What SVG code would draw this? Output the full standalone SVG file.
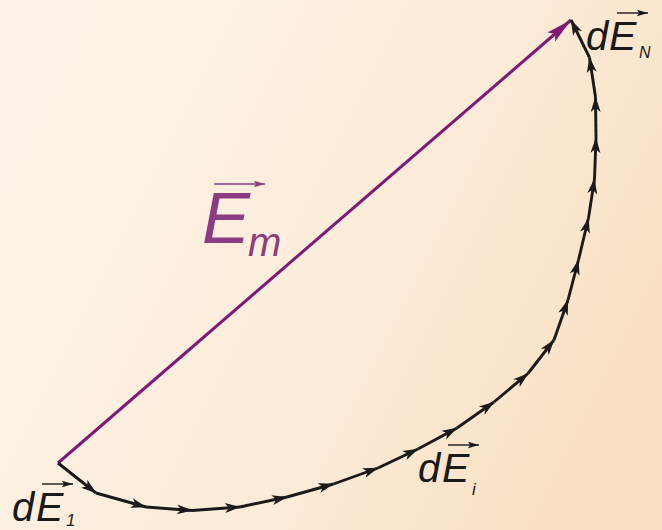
<svg xmlns="http://www.w3.org/2000/svg" width="662" height="530" viewBox="0 0 662 530">
  <defs>
    <linearGradient id="bg" x1="0" y1="0.3" x2="1" y2="0.7">
      <stop offset="0" stop-color="#fdf4e9"/>
      <stop offset="0.6" stop-color="#fcebd7"/>
      <stop offset="1" stop-color="#f9dfc1"/>
    </linearGradient>
    <marker id="ah" markerUnits="userSpaceOnUse" markerWidth="18" markerHeight="12" refX="15" refY="6" orient="auto" overflow="visible">
      <path d="M0,1 L15.5,6 L0,11 L4,6 z" fill="#1a1a1a"/>
    </marker>
    <marker id="ahp" markerUnits="userSpaceOnUse" markerWidth="30" markerHeight="16" refX="26" refY="8" orient="auto" overflow="visible">
      <path d="M0,2 L26,8 L0,14 L5,8 z" fill="#7d1a78"/>
    </marker>
    <marker id="ahsk" markerUnits="userSpaceOnUse" markerWidth="14" markerHeight="8" refX="11" refY="4" orient="auto" overflow="visible">
      <path d="M0,0.8 L11,4 L0,7.2 L2,4 z" fill="#1a1a1a"/>
    </marker>
    <marker id="ahsp" markerUnits="userSpaceOnUse" markerWidth="14" markerHeight="8" refX="11" refY="4" orient="auto" overflow="visible">
      <path d="M0,0.8 L11,4 L0,7.2 L2,4 z" fill="#8c3c80"/>
    </marker>
  </defs>
  <style>
    .seg { stroke: #1a1a1a; stroke-width: 2.9; fill: none; marker-end: url(#ah); }
    .lbl { font-family: "Liberation Sans", Arial, sans-serif; font-style: italic; fill: #1a1a1a; }
    .vec { stroke: #1a1a1a; stroke-width: 1.4; marker-end: url(#ahsk); }
    .vecp { stroke: #8c3c80; stroke-width: 1.7; marker-end: url(#ahsp); }
  </style>
  <rect x="0" y="0" width="662" height="530" fill="url(#bg)"/>

  <g id="connectors">
    <line id="Em-vector" x1="58" y1="463" x2="571" y2="20" stroke="#7d1a78" stroke-width="3" marker-end="url(#ahp)"/>
    <g id="chain">
      <line class="seg" x1="58" y1="463" x2="96" y2="493"/>
      <line class="seg" x1="96" y1="493" x2="146" y2="507"/>
      <line class="seg" x1="146" y1="507" x2="192" y2="510.5"/>
      <line class="seg" x1="192" y1="510.5" x2="240" y2="507"/>
      <line class="seg" x1="240" y1="507" x2="287" y2="497"/>
      <line class="seg" x1="287" y1="497" x2="333.5" y2="484"/>
      <line class="seg" x1="333.5" y1="484" x2="378" y2="468"/>
      <line class="seg" x1="378" y1="468" x2="418" y2="449"/>
      <line class="seg" x1="418" y1="449" x2="457" y2="428"/>
      <line class="seg" x1="457" y1="428" x2="494" y2="402"/>
      <line class="seg" x1="494" y1="402" x2="528" y2="373.5"/>
      <line class="seg" x1="528" y1="373.5" x2="554" y2="340"/>
      <line class="seg" x1="554" y1="340" x2="568" y2="300"/>
      <line class="seg" x1="568" y1="300" x2="578.5" y2="260"/>
      <line class="seg" x1="578.5" y1="260" x2="588.5" y2="218"/>
      <line class="seg" x1="588.5" y1="218" x2="594.5" y2="179"/>
      <line class="seg" x1="594.5" y1="179" x2="596" y2="138"/>
      <line class="seg" x1="596" y1="138" x2="595.5" y2="97"/>
      <line class="seg" x1="595.5" y1="97" x2="589.5" y2="57.5"/>
      <line class="seg" x1="589.5" y1="57.5" x2="571" y2="20"/>
    </g>
  </g>

  <g id="label-Em">
    <text class="lbl" x="202" y="243" font-size="72" style="fill:#8c3c80">E</text>
    <text class="lbl" x="248" y="256" font-size="40" style="fill:#8c3c80">m</text>
    <line class="vecp" x1="214" y1="184" x2="265" y2="184"/>
  </g>

  <g id="label-dE1">
    <text class="lbl" x="12" y="521" font-size="40">d</text>
    <text class="lbl" x="36" y="521" font-size="41">E</text>
    <text class="lbl" x="66" y="526" font-size="17">1</text>
    <line class="vec" x1="42" y1="484" x2="73" y2="484"/>
  </g>

  <g id="label-dEi">
    <text class="lbl" x="418" y="482" font-size="40">d</text>
    <text class="lbl" x="442" y="482" font-size="41">E</text>
    <text class="lbl" x="472" y="495" font-size="17">i</text>
    <line class="vec" x1="448" y1="445" x2="479" y2="445"/>
  </g>

  <g id="label-dEN">
    <text class="lbl" x="586" y="50" font-size="40">d</text>
    <text class="lbl" x="609" y="50" font-size="41">E</text>
    <text class="lbl" x="639" y="58" font-size="16">N</text>
    <line class="vec" x1="617" y1="13" x2="648" y2="13"/>
  </g>
</svg>
